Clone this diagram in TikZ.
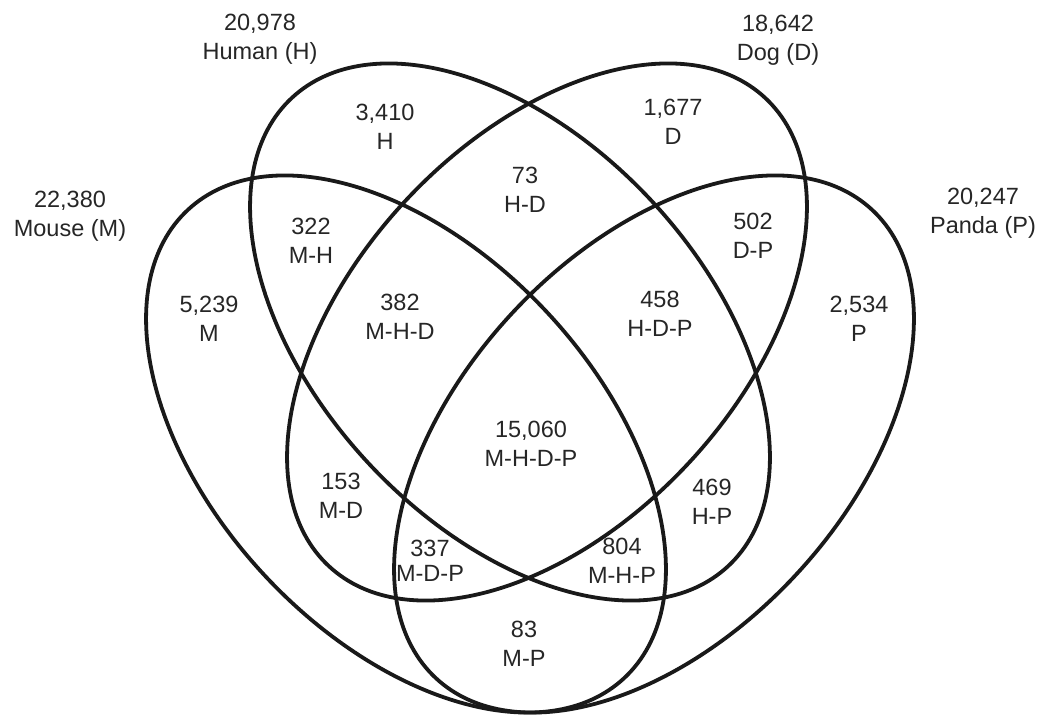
\documentclass[tikz,border=0pt]{standalone}
\usepackage{fontspec}
\setmainfont{Liberation Sans}
\usetikzlibrary{shapes.geometric}
\begin{document}
\begin{tikzpicture}[x=1pt,y=-1pt,
  setshape/.style={ellipse, draw=black!90, line width=3.8pt,
    minimum width=640pt, minimum height=386pt, inner sep=0pt, outer sep=0pt},
  lbl/.style={align=center, text=black!85, inner sep=0pt,
    font=\fontsize{23.5}{28.5}\selectfont}]
\useasboundingbox (0,0) rectangle (1042,717);

% the four sets
\node[setshape, rotate=-47] (mouse) at (406,444) {};
\node[setshape, rotate=-47] (human) at (510,332) {};
\node[setshape, rotate=47]  (dog)   at (547,332) {};
\node[setshape, rotate=47]  (panda) at (654,444) {};

% set names and totals
\node[lbl] (tH) at (260,39)  {20,978\\Human (H)};
\node[lbl] (tD) at (778,40)  {18,642\\Dog (D)};
\node[lbl] (tM) at (70,216)  {22,380\\Mouse (M)};
\node[lbl] (tP) at (983,213) {20,247\\Panda (P)};

% region counts
\node[lbl] (rH)    at (385,127) {3,410\\H};
\node[lbl] (rD)    at (673,122) {1,677\\D};
\node[lbl] (rHD)   at (525,190) {73\\H-D};
\node[lbl] (rMH)   at (311,241) {322\\M-H};
\node[lbl] (rDP)   at (753,236) {502\\D-P};
\node[lbl] (rM)    at (209,319) {5,239\\M};
\node[lbl] (rMHD)  at (400,317) {382\\M-H-D};
\node[lbl] (rHDP)  at (660,314) {458\\H-D-P};
\node[lbl] (rP)    at (859,319) {2,534\\P};
\node[lbl] (rMHDP) at (531,444) {15,060\\M-H-D-P};
\node[lbl] (rMD)   at (341,496) {153\\M-D};
\node[lbl] (rHP)   at (712,502) {469\\H-P};
\node[lbl, font=\fontsize{23.5}{25}\selectfont] (rMDP) at (430,561) {337\\M-D-P};
\node[lbl] (rMHP)  at (622,561) {804\\M-H-P};
\node[lbl] (rMP)   at (524,644) {83\\M-P};
\end{tikzpicture}
\end{document}
